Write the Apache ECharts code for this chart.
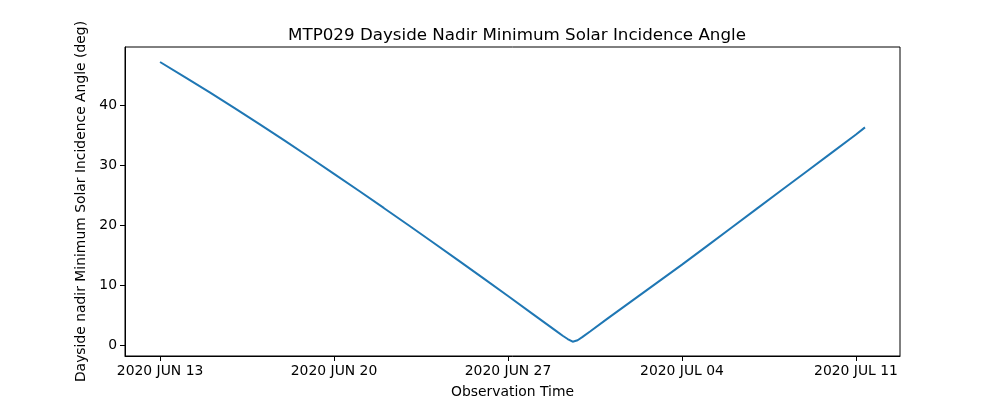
<!DOCTYPE html>
<html>
<head>
<meta charset="utf-8">
<script src="https://cdn.jsdelivr.net/npm/echarts@6/dist/echarts.min.js"></script>
<style>html,body{margin:0;padding:0;background:#fff}#c{width:1000px;height:400px}</style>
</head>
<body>
<div id="c"></div>
<script>
const times = [
  '2020-06-13T00:00','2020-06-14T00:00','2020-06-15T00:00','2020-06-16T00:00','2020-06-17T00:00',
  '2020-06-18T00:00','2020-06-19T00:00','2020-06-20T00:00','2020-06-21T00:00','2020-06-22T00:00',
  '2020-06-23T00:00','2020-06-24T00:00','2020-06-25T00:00','2020-06-26T00:00','2020-06-27T00:00',
  '2020-06-28T00:00','2020-06-29T00:00','2020-06-29T04:48','2020-06-29T09:36','2020-06-29T14:24',
  '2020-06-29T19:12','2020-06-30T00:00','2020-06-30T07:12','2020-07-01T00:00','2020-07-02T00:00',
  '2020-07-03T00:00','2020-07-04T00:00','2020-07-05T00:00','2020-07-06T00:00','2020-07-07T00:00',
  '2020-07-08T00:00','2020-07-09T00:00','2020-07-10T00:00','2020-07-11T00:00','2020-07-11T08:40'
];
const angles = [
  47.2, 44.68, 42.12, 39.5, 36.84,
  34.12, 31.35, 28.55, 25.72, 22.86,
  19.97, 17.06, 14.12, 11.16, 8.17,
  5.16, 2.15, 1.55, 1.0, 0.55,
  0.8, 1.35, 2.25, 4.4, 7.4,
  10.4, 13.4, 16.5, 19.6, 22.7,
  25.8, 28.9, 32.0, 35.1, 36.3
];
const tickDates = ['2020-06-13T00:00','2020-06-20T00:00','2020-06-27T00:00','2020-07-04T00:00','2020-07-11T00:00'];
const tickLabels = ['2020 JUN 13','2020 JUN 20','2020 JUN 27','2020 JUL 04','2020 JUL 11'];
const yTicks = [0, 10, 20, 30, 40];

const base = Date.UTC(2020, 5, 13);
const toDay = s => {
  const [d, t] = s.split('T');
  const [Y, M, D] = d.split('-').map(Number);
  const [h, m] = t.split(':').map(Number);
  return (Date.UTC(Y, M - 1, D, h, m) - base) / 86400000;
};
const data = times.map((t, i) => [toDay(t), angles[i]]);
const xTickVals = tickDates.map(toDay);

const font = 'DejaVu Sans';
const chart = echarts.init(document.getElementById('c'), null, {renderer: 'canvas'});
chart.setOption({
  animation: false,
  backgroundColor: '#fff',
  title: {
    text: 'MTP029 Dayside Nadir Minimum Solar Incidence Angle',
    left: 512, top: 22, textAlign: 'center',
    textStyle: {fontFamily: font, fontSize: 16.7, fontWeight: 'normal', color: '#000'}
  },
  grid: {left: 125, right: 100, top: 47, bottom: 44, outerBoundsMode: 'none', containLabel: false,
    show: true, borderColor: '#000', borderWidth: 1, backgroundColor: 'transparent'},
  xAxis: {
    type: 'value', min: -1.41, max: 29.77,
    name: 'Observation Time', nameLocation: 'middle', nameGap: 29,
    nameTextStyle: {fontFamily: font, fontSize: 13.9, color: '#000'},
    axisLine: {show: true, onZero: false, lineStyle: {color: '#000', width: 1}},
    axisTick: {show: true, length: 5, inside: false, customValues: xTickVals, lineStyle: {color: '#000'}},
    axisLabel: {
      customValues: xTickVals, margin: 8, fontFamily: font, fontSize: 13.9, color: '#000',
      formatter: v => { const i = xTickVals.findIndex(x => Math.abs(x - v) < 1e-6); return i >= 0 ? tickLabels[i] : ''; }
    },
    splitLine: {show: false}
  },
  yAxis: {
    type: 'value', min: -1.83, max: 49.7,
    name: 'Dayside nadir Minimum Solar Incidence Angle (deg)', nameLocation: 'middle', nameGap: 36,
    nameTextStyle: {fontFamily: font, fontSize: 13.9, color: '#000'},
    axisLine: {show: true, onZero: false, lineStyle: {color: '#000', width: 1}},
    axisTick: {show: true, length: 5, inside: false, customValues: yTicks, lineStyle: {color: '#000'}},
    axisLabel: {customValues: yTicks, margin: 8, fontFamily: font, fontSize: 13.9, color: '#000'},
    splitLine: {show: false}
  },
  series: [{
    type: 'line', data: data, showSymbol: false, symbol: 'none',
    lineStyle: {color: '#1f77b4', width: 2}, smooth: false
  }]
});
</script>
</body>
</html>
